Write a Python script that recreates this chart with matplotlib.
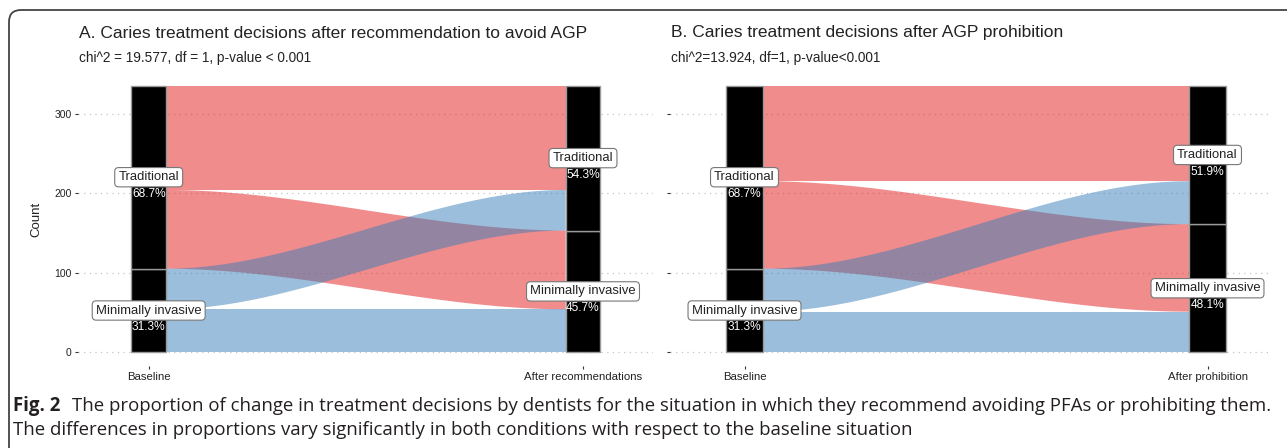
import numpy as np
import matplotlib
matplotlib.use('Agg')
import matplotlib.pyplot as plt
from matplotlib import font_manager
from matplotlib.patches import Polygon, Rectangle
from matplotlib.path import Path
from matplotlib.patches import PathPatch

#%%
# data (counts of dentists, N = 335)
strata = ['Traditional', 'Minimally invasive']
titles = ['A. Caries treatment decisions after recommendation to avoid AGP',
          'B. Caries treatment decisions after AGP prohibition']
subtitles = ['chi^2 = 19.577, df = 1, p-value < 0.001',
             'chi^2=13.924, df=1, p-value<0.001']
axis_labels_A = ['Baseline', 'After recommendations']
axis_labels_B = ['Baseline', 'After prohibition']
# flows: [T->T, T->MI, MI->T, MI->MI]
flows_A = [131, 99, 51, 54]
flows_B = [120, 110, 54, 51]
y_ticks = [0, 100, 200, 300]

caption_bold = 'Fig. 2'
caption_1 = ('The proportion of change in treatment decisions by dentists for the situation '
             'in which they recommend avoiding PFAs or prohibiting them.')
caption_2 = 'The differences in proportions vary significantly in both conditions with respect to the baseline situation'

#%%
def have(name):
    try:
        font_manager.findfont(name, fallback_to_default=False)
        return True
    except Exception:
        return False

plot_font = [f for f in ['Liberation Sans', 'DejaVu Sans'] if have(f)]
cap_font = [f for f in ['Open Sans', 'Noto Sans', 'DejaVu Sans'] if have(f)]

red = (228/255, 26/255, 28/255, 0.5)
blue = (55/255, 126/255, 184/255, 0.5)
txt = '#222222'

W, H = 1287, 448
fig = plt.figure(figsize=(W/100, H/100), dpi=100)

def fx(px):
    return px / W

def fy(py):
    return 1 - py / H

def draw_panel(ax, flows, xlabels, show_ylabels, sw=0.08):
    tt, tm, mt, mm = flows
    n = sum(flows)
    base_T = tt + tm
    base_M = mt + mm
    aft_T = tt + mt
    aft_M = tm + mm
    # flow positions (bottom, top) at left and right axis
    left = {
        'tt': (base_M + tm, n), 'tm': (base_M, base_M + tm),
        'mt': (mm, base_M), 'mm': (0, mm)}
    right = {
        'tt': (aft_M + mt, n), 'mt': (aft_M, aft_M + mt),
        'tm': (mm, aft_M), 'mm': (0, mm)}
    cols = {'tt': red, 'tm': red, 'mt': blue, 'mm': blue}
    x0, x1 = 1 + sw/2, 2 - sw/2
    t = np.linspace(0, 1, 200)
    s = 3*t**2 - 2*t**3
    xs = x0 + (x1 - x0) * t
    for k in ['tt', 'tm', 'mt', 'mm']:
        lb, lt = left[k]
        rb, rt = right[k]
        top = lt + (rt - lt) * s
        bot = lb + (rb - lb) * s
        verts = np.concatenate([np.column_stack([xs, top]),
                                np.column_stack([xs[::-1], bot[::-1]])])
        ax.add_patch(Polygon(verts, closed=True, fc=cols[k], ec='none', zorder=2))
    # strata
    for xc, (m, tr) in zip([1, 2], [(base_M, base_T), (aft_M, aft_T)]):
        ax.add_patch(Rectangle((xc - sw/2, 0), sw, m, fc='black', ec='#999999', lw=1, zorder=3))
        ax.add_patch(Rectangle((xc - sw/2, m), sw, tr, fc='black', ec='#999999', lw=1, zorder=3))
        for name, lo, hi in [('Traditional', m, n), ('Minimally invasive', 0, m)]:
            yc = (lo + hi) / 2
            ax.text(xc, yc, name, ha='center', va='center', fontsize=9.4, family=plot_font,
                    color=txt, zorder=5,
                    bbox=dict(boxstyle='round,pad=0.28,rounding_size=0.3', fc='white', ec='#777777', lw=0.8))
            ax.annotate(f'{100*(hi-lo)/n:.1f}%', (xc, yc), xytext=(0, -12), textcoords='offset points',
                        ha='center', va='center', fontsize=8.6, family=plot_font, color='white', zorder=5)
    ax.set_ylim(-0.05*n, 1.05*n)
    ax.set_yticks(y_ticks)
    ax.set_xticks([1, 2])
    ax.set_xticklabels(xlabels, fontsize=8.2, family=plot_font, color=txt)
    if show_ylabels:
        ax.set_yticklabels([str(v) for v in y_ticks], fontsize=7.5, family=plot_font, color=txt)
    else:
        ax.set_yticklabels([])
    ax.tick_params(axis='both', length=2.5, width=0.8, color='#333333', pad=2)
    ax.grid(axis='y', linestyle=(0, (1, 3.5)), color='#c4c4c4', lw=0.9, zorder=0)
    ax.set_axisbelow(True)
    for sp in ax.spines.values():
        sp.set_visible(False)

axA = fig.add_axes([fx(78), fy(365.6), fx(653 - 78), fy(72.4) - fy(365.6)])
axB = fig.add_axes([fx(670), fy(365.6), fx(1268 - 670), fy(72.4) - fy(365.6)])
draw_panel(axA, flows_A, axis_labels_A, True)
draw_panel(axB, flows_B, axis_labels_B, False)
# keep the strata where they sit in the original
axA.set_xlim(1 - (148.7 - 78) / 434.3, 2 + (653 - 583) / 434.3)
axB.set_xlim(1 - (744.5 - 670) / 463, 2 + (1268 - 1207.5) / 463)
axA.set_ylabel('Count', fontsize=9.5, family=plot_font, color=txt, labelpad=9)

for xp, tt_, st in [(79, titles[0], subtitles[0]), (671, titles[1], subtitles[1])]:
    fig.text(fx(xp), fy(33), tt_, fontsize=12.5, family=plot_font, color=txt, va='center')
    fig.text(fx(xp), fy(58), st, fontsize=9.8, family=plot_font, color=txt, va='center')

# frame: left line and top line with a rounded corner
r = 12
verts = [(fx(9), 0), (fx(9), fy(10 + r)), (fx(9), fy(10)), (fx(9 + r), fy(10)), (1, fy(10))]
codes = [Path.MOVETO, Path.LINETO, Path.CURVE3, Path.CURVE3, Path.LINETO]
fig.patches.append(PathPatch(Path(verts, codes), transform=fig.transFigure, fill=False,
                             ec='#444444', lw=1.3))

# caption, fitted to the line width of the original
renderer = fig.canvas.get_renderer()
tb = fig.text(fx(13), fy(406), caption_bold, fontsize=12, family=cap_font, weight='bold',
              color='#231f20', va='center')
t1 = fig.text(0, fy(406), caption_1, fontsize=12, family=cap_font, color='#231f20', va='center')
wb = tb.get_window_extent(renderer).width
w1 = t1.get_window_extent(renderer).width
gap = 12
scale = (1267 - 13 - gap) / (wb + w1)
tb.set_fontsize(12 * scale)
t1.set_fontsize(12 * scale)
wb = tb.get_window_extent(renderer).width
t1.set_x(fx(13 + wb + gap))
fig.text(fx(13), fy(430), caption_2, fontsize=12 * scale, family=cap_font, color='#231f20', va='center')

fig.savefig('out.png', dpi=100)
